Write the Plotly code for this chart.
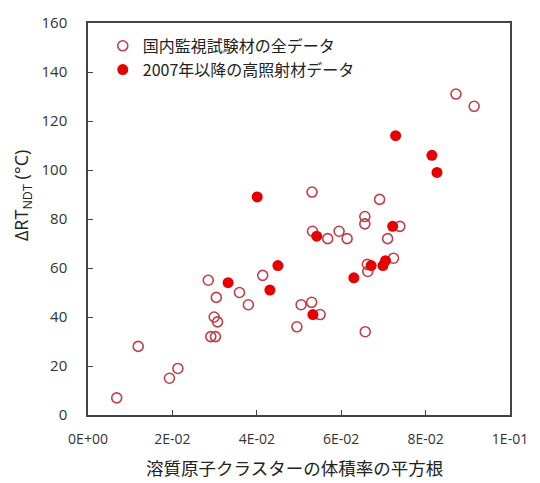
import plotly.graph_objects as go

# All domestic surveillance data (open circles)
all_x = [0.0068, 0.0119, 0.0193, 0.0213, 0.0285, 0.0291, 0.0302, 0.0299, 0.0307, 0.0304,
         0.0359, 0.0380, 0.0414, 0.0495, 0.0505, 0.0530, 0.0550, 0.0531, 0.0532, 0.0568,
         0.0595, 0.0614, 0.0657, 0.0663, 0.0662, 0.0656, 0.0656, 0.0691, 0.0710, 0.0724,
         0.0739, 0.0872, 0.0915]
all_y = [7, 28, 15, 19, 55, 32, 32, 40, 38, 48,
         50, 45, 57, 36, 45, 46, 41, 91, 75, 72,
         75, 72, 34, 58.6, 61.5, 78, 81, 88, 72, 64,
         77, 131, 126]

# High-fluence data since 2007 (filled circles)
hi_x = [0.0332, 0.0401, 0.0431, 0.0450, 0.0533, 0.0542, 0.0630, 0.0671, 0.0699, 0.0705,
        0.0722, 0.0729, 0.0815, 0.0827]
hi_y = [54, 89, 51, 61, 41, 73, 56, 61, 61, 63,
        77, 114, 106, 99]

x_ticks = [0, 0.02, 0.04, 0.06, 0.08, 0.1]
x_labels = ["0E+00", "2E-02", "4E-02", "6E-02", "8E-02", "1E-01"]
y_ticks = [0, 20, 40, 60, 80, 100, 120, 140, 160]

font = "Open Sans, Noto Sans CJK JP, sans-serif"
cjk = "Noto Sans CJK JP, sans-serif"

fig = go.Figure()
fig.add_trace(go.Scatter(
    x=all_x, y=all_y, mode="markers", name="国内監視試験材の全データ",
    marker=dict(symbol="circle-open", size=10, color="#bf3f4a", line=dict(width=1.6)),
))
fig.add_trace(go.Scatter(
    x=hi_x, y=hi_y, mode="markers", name="2007年以降の高照射材データ",
    marker=dict(symbol="circle", size=11, color="#e60000", line=dict(width=0)),
))

fig.update_layout(
    width=540, height=483,
    margin=dict(l=88, r=21, t=19, b=68),
    paper_bgcolor="white", plot_bgcolor="white",
    font=dict(family=font, size=14, color="#222"),
    showlegend=True,
    legend=dict(x=0.035, y=0.985, xanchor="left", yanchor="top",
                bgcolor="rgba(255,255,255,0)", borderwidth=0,
                font=dict(family=cjk, size=16, color="#222"),
                itemwidth=30, tracegroupgap=0),
    xaxis=dict(range=[0, 0.1], tickvals=x_ticks, ticktext=x_labels,
               showgrid=False, zeroline=False, showline=True, linecolor="#444",
               linewidth=1.5, mirror=True, ticks="inside", ticklen=5, tickcolor="#444",
               tickfont=dict(size=14, color="#333"), ticklabelstandoff=10),
    yaxis=dict(range=[0, 160], tickvals=y_ticks,
               showgrid=False, zeroline=False, showline=True, linecolor="#444",
               linewidth=1.5, mirror=True, ticks="inside", ticklen=5, tickcolor="#444",
               tickfont=dict(size=15, color="#333"), ticklabelstandoff=16),
    annotations=[
        dict(text="溶質原子クラスターの体積率の平方根", xref="paper", yref="paper",
             x=0.49, y=-0.135, xanchor="center", yanchor="middle", showarrow=False,
             font=dict(family=cjk, size=17.5, color="#222")),
        dict(text="ΔRT<sub>NDT</sub> (°C)", xref="paper", yref="paper",
             x=-0.155, y=0.56, xanchor="center", yanchor="middle", showarrow=False,
             textangle=-90, font=dict(family=font, size=18, color="#222")),
    ],
)

fig.write_html("out.html")
